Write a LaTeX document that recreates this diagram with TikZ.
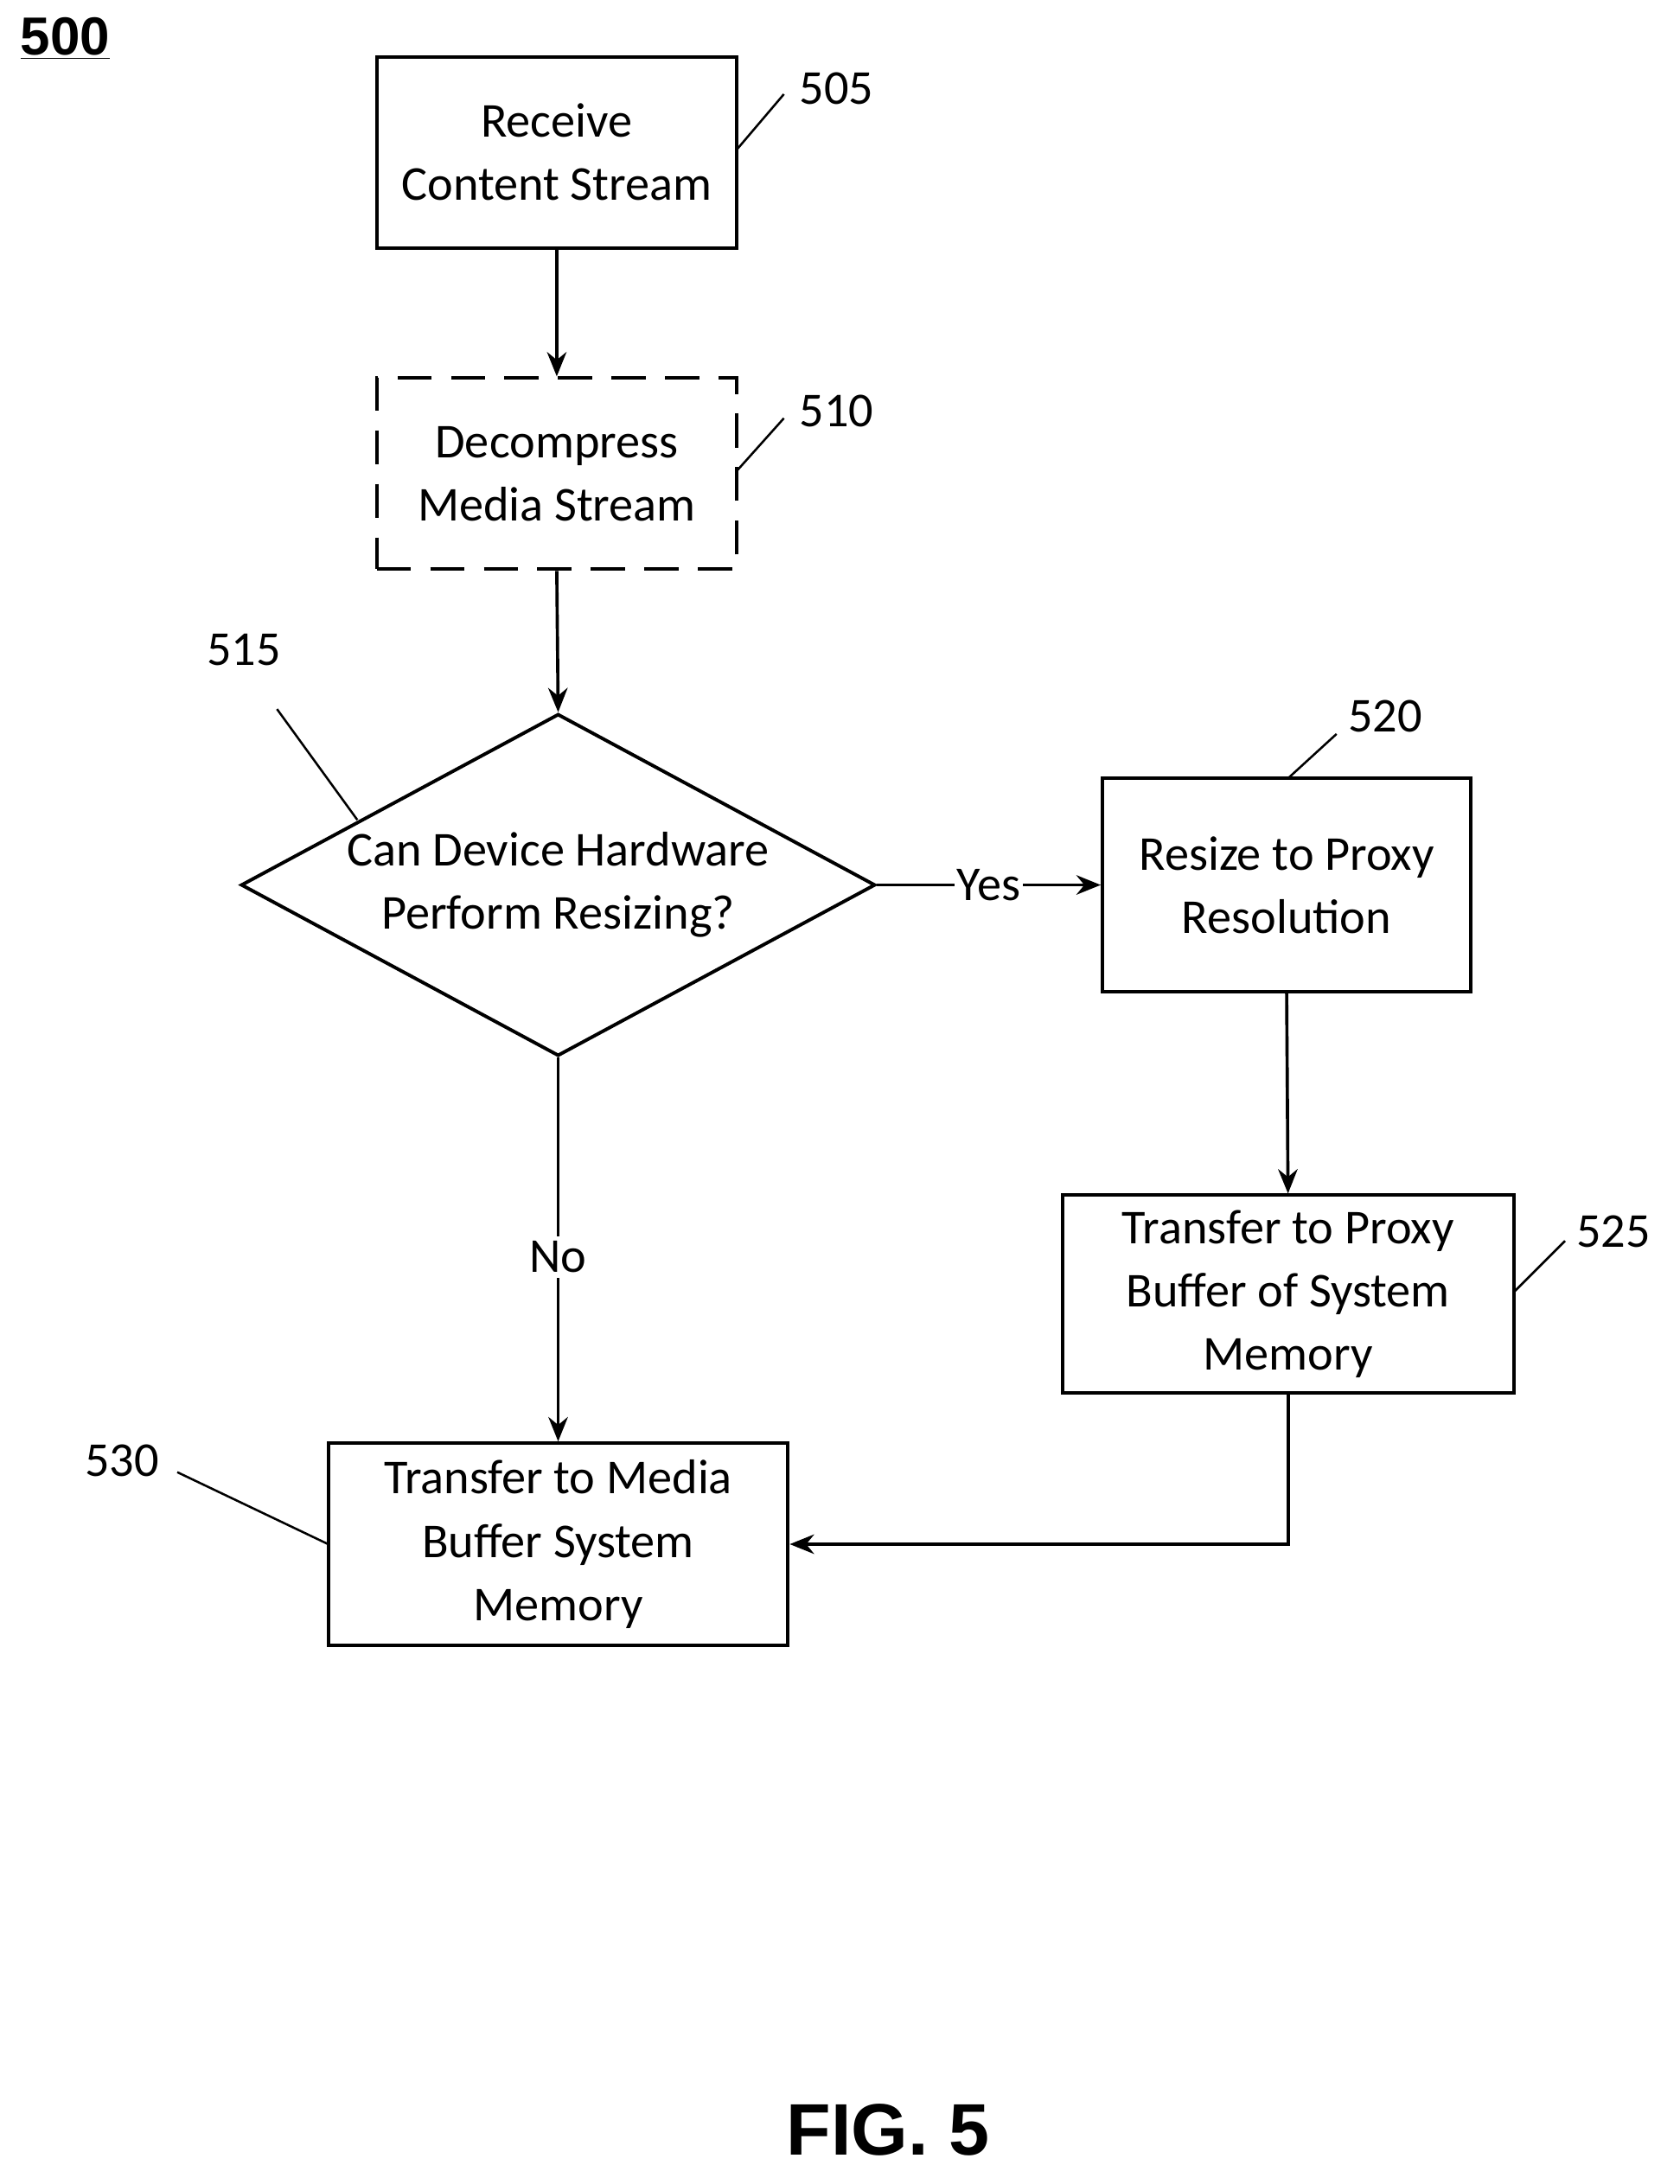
\documentclass[tikz,border=0pt]{standalone}
\usepackage{fontspec}
\setmainfont{Carlito}
\newfontfamily\arialf{Liberation Sans}
\usetikzlibrary{shapes.geometric,arrows.meta}
\begin{document}
\begin{tikzpicture}[x=0.02cm,y=-0.02cm,
  box/.style={draw,line width=1.4pt,align=center,font=\fontsize{20}{26}\selectfont,inner sep=0pt},
  lab/.style={font=\fontsize{20}{24}\selectfont},
  arr/.style={line width=1.3pt,-{Stealth[length=10pt,width=8pt]}},
  lead/.style={line width=0.9pt}]
\useasboundingbox (0,0) rectangle (1213,1577);
\node[font=\arialf\bfseries\fontsize{22}{26}\selectfont] (t500) at (47,28) {\underline{500}};
\node[box,minimum width=260*0.02cm,minimum height=138*0.02cm] (b505) at (402,110) {Receive\\Content Stream};
\node[box,dash pattern=on 14pt off 8pt,minimum width=260*0.02cm,minimum height=138*0.02cm] (b510) at (402,342) {Decompress\\Media Stream};
\node[box,diamond,minimum width=458*0.02cm,minimum height=247*0.02cm,aspect=1.85] (d515) at (403,639) {};
\node[box,draw=none] at (403,639) {Can Device Hardware\\Perform Resizing?};
\node[box,minimum width=266*0.02cm,minimum height=154*0.02cm] (b520) at (929,639) {Resize to Proxy\\Resolution};
\node[box,minimum width=326*0.02cm,minimum height=143*0.02cm] (b525) at (930,934.5) {Transfer to Proxy\\Buffer of System\\Memory};
\node[box,minimum width=332*0.02cm,minimum height=146*0.02cm] (b530) at (403,1115) {Transfer to Media\\Buffer System\\Memory};
\draw[arr] (b505.south) -- (b510.north);
\draw[arr] (b510.south) -- (d515.north);
\draw[arr] (d515.east) -- node[fill=white,lab,inner sep=1pt] {Yes} (b520.west);
\draw[arr] (d515.south) -- node[pos=0.52,fill=white,lab,inner sep=2pt] {No} (b530.north);
\draw[arr] (b520.south) -- (b525.north);
\draw[arr] (b525.south) |- (b530.east);
\node[lab] (l505) at (604,64) {505}; \draw[lead] (532,108) -- (566,68);
\node[lab] (l510) at (604,297) {510}; \draw[lead] (532,340) -- (566,302);
\node[lab] (l515) at (176,469) {515}; \draw[lead] (200,512) -- (258,592);
\node[lab] (l520) at (1000,517) {520}; \draw[lead] (930,562) -- (965,530);
\node[lab] (l525) at (1165,889) {525}; \draw[lead] (1093,933) -- (1130,896);
\node[lab] (l530) at (88,1055) {530}; \draw[lead] (128,1063) -- (237,1115);
\node[font=\arialf\bfseries\fontsize{30}{34}\selectfont] (fig) at (641,1538) {FIG. 5};
\end{tikzpicture}
\end{document}
